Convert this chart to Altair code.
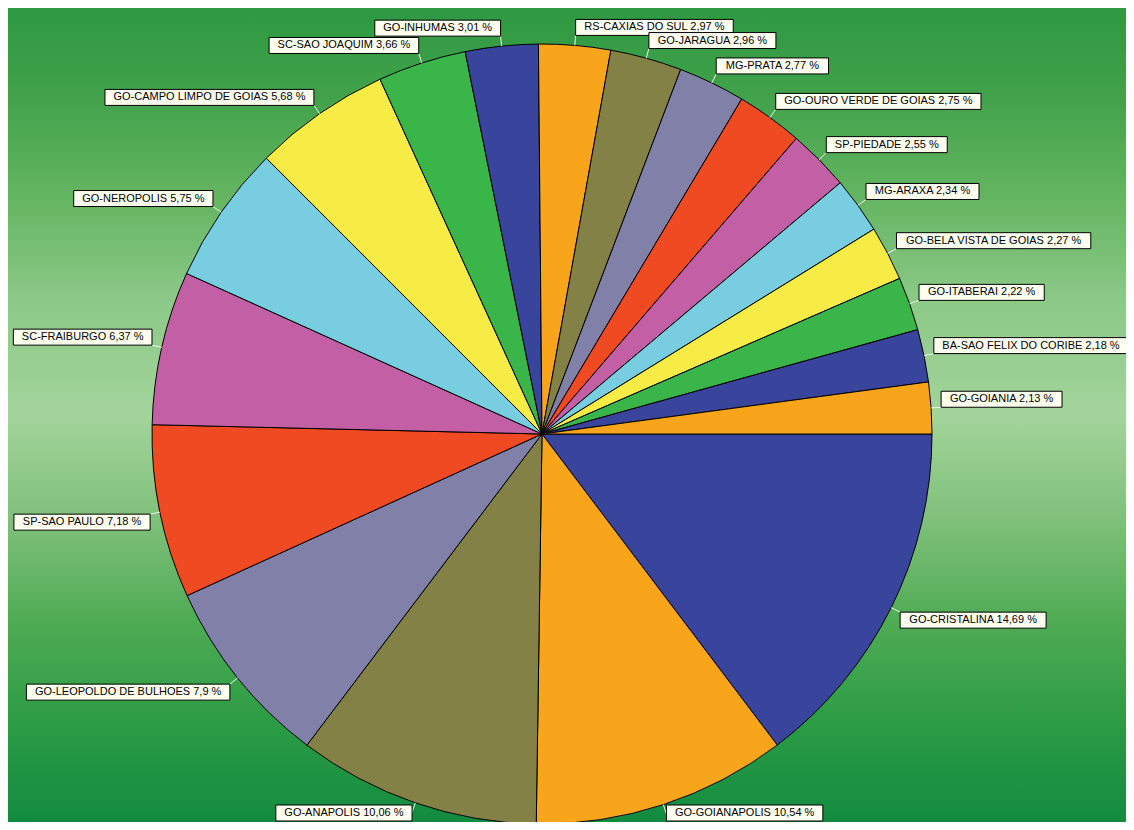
import math
import altair as alt
import pandas as pd

# ---- data ----
cities = [
    "GO-CRISTALINA", "GO-GOIANAPOLIS", "GO-ANAPOLIS", "GO-LEOPOLDO DE BULHOES",
    "SP-SAO PAULO", "SC-FRAIBURGO", "GO-NEROPOLIS", "GO-CAMPO LIMPO DE GOIAS",
    "SC-SAO JOAQUIM", "GO-INHUMAS", "RS-CAXIAS DO SUL", "GO-JARAGUA",
    "MG-PRATA", "GO-OURO VERDE DE GOIAS", "SP-PIEDADE", "MG-ARAXA",
    "GO-BELA VISTA DE GOIAS", "GO-ITABERAI", "BA-SAO FELIX DO CORIBE", "GO-GOIANIA",
]
shares = [14.69, 10.54, 10.06, 7.9, 7.18, 6.37, 5.75, 5.68, 3.66, 3.01,
          2.97, 2.96, 2.77, 2.75, 2.55, 2.34, 2.27, 2.22, 2.18, 2.13]
palette = ["#39449C", "#F9A51B", "#848146", "#8080A8", "#F04A23",
           "#C35FA5", "#79CDE0", "#F7EB45", "#3AB54A"]

# ---- derived table ----
labels = [f"{c} {str(v).replace('.', ',')} %" for c, v in zip(cities, shares)]
colors = [palette[i % len(palette)] for i in range(len(cities))]

ARIAL = {'A': 667, 'B': 667, 'C': 722, 'D': 722, 'E': 667, 'F': 611, 'G': 778,
         'H': 722, 'I': 278, 'J': 500, 'K': 667, 'L': 556, 'M': 833, 'N': 722,
         'O': 778, 'P': 667, 'Q': 778, 'R': 722, 'S': 667, 'T': 611, 'U': 722,
         'V': 667, 'W': 944, 'X': 667, 'Y': 667, 'Z': 611, ' ': 278, ',': 278,
         '-': 333, '%': 889}
FS = 11
def text_w(s):
    return sum(ARIAL.get(ch, 556) for ch in s) * FS / 1000.0

df = pd.DataFrame({
    "order": list(range(len(cities))),
    "city": cities,
    "share": shares,
    "label": labels,
    "bw": [text_w(s) + 17 for s in labels],
})

W, H = 1118, 814
CX, CY, R, LR, BH = 534, 426, 390, 400, 16
A0 = math.pi / 2

base = (
    alt.Chart(df)
    .transform_joinaggregate(total="sum(share)")
    .transform_window(cum="sum(share)", sort=[alt.SortField("order")], frame=[None, 0])
    .transform_calculate(mid=f"{A0} + 2*PI*(datum.cum - datum.share/2)/datum.total")
    .transform_calculate(
        ex=f"{CX} + {R}*sin(datum.mid)", ey=f"{CY} - {R}*cos(datum.mid)",
        ax=f"{CX} + {LR}*sin(datum.mid)", ay=f"{CY} - {LR}*cos(datum.mid)",
    )
    .transform_calculate(
        bx1="sin(datum.mid) >= 0 ? datum.ax : datum.ax - datum.bw",
        by1=f"clamp(cos(datum.mid) < 0 ? datum.ay : datum.ay - {BH}, 1, {H - BH - 1})",
    )
    .transform_calculate(
        bx2="datum.bx1 + datum.bw", by2=f"datum.by1 + {BH}",
        tx="datum.bx1 + datum.bw/2", ty=f"datum.by1 + {BH}/2",
        ly="clamp(datum.ay, datum.by1, datum.by1 + " + str(BH) + ")",
    )
)

bg_grad = alt.LinearGradient(
    gradient="linear", x1=0, x2=0, y1=0, y2=1,
    stops=[
        alt.GradientStop(color="#2d9942", offset=0.0),
        alt.GradientStop(color="#42a24b", offset=0.11),
        alt.GradientStop(color="#66b663", offset=0.24),
        alt.GradientStop(color="#8cc988", offset=0.36),
        alt.GradientStop(color="#a3d49b", offset=0.50),
        alt.GradientStop(color="#7fc07a", offset=0.63),
        alt.GradientStop(color="#50ac55", offset=0.75),
        alt.GradientStop(color="#2c9c45", offset=0.875),
        alt.GradientStop(color="#128b40", offset=1.0),
    ],
)
bg = alt.Chart(pd.DataFrame({"k": [0]})).mark_rect(color=bg_grad).encode(
    x=alt.value(0), x2=alt.value(W), y=alt.value(0), y2=alt.value(H)
)

pie = alt.Chart(df).mark_arc(stroke="black", strokeWidth=1, radius=R).encode(
    theta=alt.Theta("share:Q", stack=True,
                    scale=alt.Scale(range=[A0, A0 + 2 * math.pi], nice=False, zero=True)),
    color=alt.Color("city:N", scale=alt.Scale(domain=cities, range=colors), legend=None),
    order=alt.Order("order:Q"),
    x=alt.value(CX), y=alt.value(CY),
)

leaders = base.mark_rule(color="#eef7ee", strokeWidth=1).encode(
    x=alt.X("ex:Q", scale=None, axis=None), y=alt.Y("ey:Q", scale=None, axis=None),
    x2="ax:Q", y2="ly:Q",
)

boxes = base.mark_rect(fill="#FFFFF0", stroke="black", strokeWidth=1).encode(
    x=alt.X("bx1:Q", scale=None, axis=None), x2="bx2:Q",
    y=alt.Y("by1:Q", scale=None, axis=None), y2="by2:Q",
)

texts = base.mark_text(font="Liberation Sans", fontSize=FS, color="black",
                       align="center", baseline="middle").encode(
    x=alt.X("tx:Q", scale=None, axis=None), y=alt.Y("ty:Q", scale=None, axis=None),
    text="label:N",
)

chart = (
    alt.layer(bg, pie, leaders, boxes, texts)
    .properties(width=W, height=H, autosize=alt.AutoSizeParams(type="none"), padding=0)
    .configure_view(stroke=None)
)

chart.save("out.html", embed_options={"renderer": "svg", "actions": False})
